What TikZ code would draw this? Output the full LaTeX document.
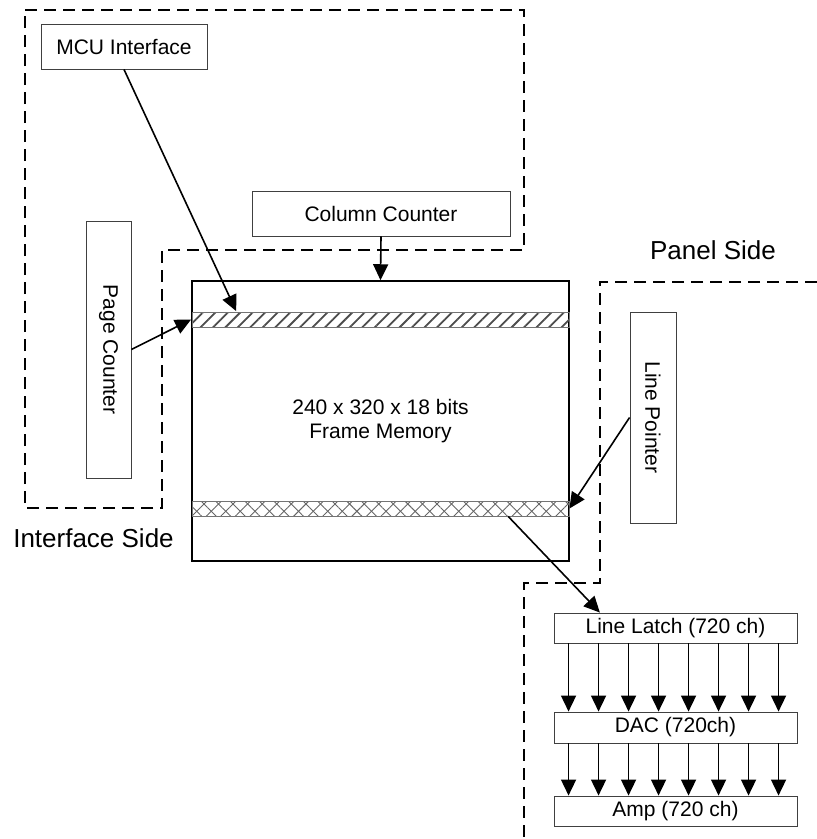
\documentclass[tikz,border=0pt]{standalone}
\usepackage{fontspec}
\setmainfont{Liberation Sans}
\usetikzlibrary{arrows.meta,calc,patterns.meta}
\begin{document}
\begin{tikzpicture}[x=1pt,y=-1pt,
  box/.style={draw=black!75,line width=0.9pt,rectangle,inner sep=0pt,font=\fontsize{21}{24}\selectfont},
  band/.style={draw=black!55,line width=0.8pt,rectangle,inner sep=0pt,minimum width=377,minimum height=15},
  region/.style={dash pattern=on 12pt off 7pt,line width=1.5pt},
  arr/.style={line width=1.6pt,-{Triangle[length=16pt,width=15pt]}},
  side/.style={font=\fontsize{26}{30}\selectfont,inner sep=0pt}]
\useasboundingbox (0,0) rectangle (817,839);
% regions
\draw[region] (25,10) -- (524,10) -- (524,250) -- (162,250) -- (162,508) -- (25,508) -- cycle;
\draw[region] (817,282) -- (600,282) -- (600,583) -- (524,583) -- (524,839);
\node[side] (ifside) at (93.5,538) {Interface Side};
\node[side] (pside) at (713,250) {Panel Side};
% boxes
\node[box,minimum width=166,minimum height=45] (mcu) at (124,46.5) {MCU Interface};
\node[box,minimum width=258,minimum height=45] (cc) at (381,213.5) {Column Counter};
\node[box,minimum width=45,minimum height=257] (pc) at (108.5,349.5) {\rotatebox{-90}{Page Counter}};
\node[box,minimum width=46,minimum height=211] (lp) at (653,417.5) {\rotatebox{-90}{Line Pointer}};
\node[box,draw=black,line width=1.5pt,minimum width=377,minimum height=280,align=center] (mem) at (380.5,421)
  {240 x 320 x 18 bits\\Frame Memory};
\node[band,pattern={Lines[angle=45,distance=8.8pt,line width=1.8pt]},pattern color=black!70] (hband) at (380.5,319.5) {};
\node[band,pattern={Lines[angle=45,distance=10.3pt,line width=0.9pt]},pattern color=black!60] (xband0) at (380.5,508.5) {};
\node[band,pattern={Lines[angle=-45,distance=10.3pt,line width=0.9pt]},pattern color=black!60] (xband) at (380.5,508.5) {};
\node[box,minimum width=243,minimum height=30] (latch) at (675.5,628) {Line Latch (720 ch)};
\node[box,minimum width=243,minimum height=31] (dac) at (675.5,727.5) {DAC (720ch)};
\node[box,minimum width=243,minimum height=30] (amp) at (675.5,811) {Amp (720 ch)};
% connectors
\draw[arr] (mcu.south) -- ($(hband.north west)!0.119!(hband.north east)$);
\draw[arr] (pc.east) -- (hband.west);
\draw[arr] (cc.south) -- (mem.north);
\draw[arr] (lp.west) -- (xband.east);
\draw[arr] ($(xband.south west)!0.838!(xband.south east)$) -- ($(latch.north west)!0.19!(latch.north east)$);
\foreach \i in {0,...,7}{
  \draw[arr] ($(latch.south west)+(15+30*\i,0)$) -- ($(dac.north west)+(15+30*\i,0)$);
  \draw[arr] ($(dac.south west)+(15+30*\i,0)$) -- ($(amp.north west)+(15+30*\i,0)$);
}
\end{tikzpicture}
\end{document}
